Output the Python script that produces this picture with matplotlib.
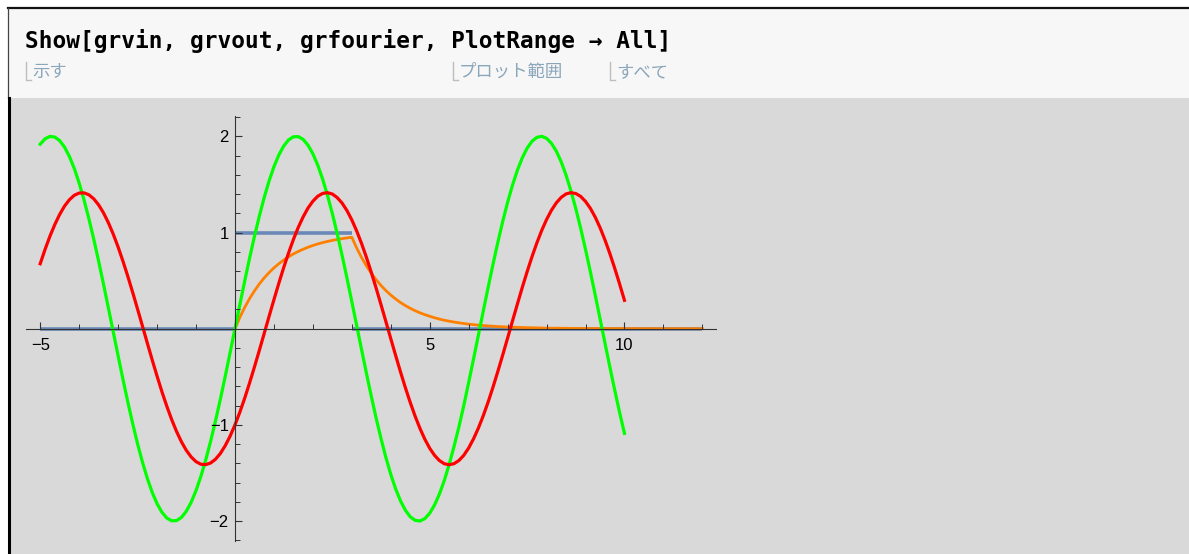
import matplotlib.pyplot as plt
from matplotlib.ticker import FixedLocator
from matplotlib.patches import Rectangle
from matplotlib.lines import Line2D

plt.rcParams['font.family'] = ['Liberation Sans', 'DejaVu Sans']

W, H = 1189, 554

# grfourier: two sinusoids sampled every 0.125 on [-5, 10]
x_wave = [-5.0 + 0.125 * i for i in range(121)]
green = [1.918, 1.974, 1.999, 1.992, 1.955, 1.887, 1.790, 1.665, 1.514, 1.339,
         1.143, 0.930, 0.702, 0.463, 0.216, -0.033, -0.282, -0.527, -0.763, -0.988,
         -1.197, -1.387, -1.556, -1.701, -1.819, -1.908, -1.968, -1.997, -1.995, -1.962,
         -1.898, -1.805, -1.683, -1.535, -1.363, -1.170, -0.959, -0.733, -0.495, -0.249,
         0.000, 0.249, 0.495, 0.733, 0.959, 1.170, 1.363, 1.535, 1.683, 1.805,
         1.898, 1.962, 1.995, 1.997, 1.968, 1.908, 1.819, 1.701, 1.556, 1.387,
         1.197, 0.988, 0.763, 0.527, 0.282, 0.033, -0.216, -0.463, -0.702, -0.930,
         -1.143, -1.339, -1.514, -1.665, -1.790, -1.887, -1.955, -1.992, -1.999, -1.974,
         -1.918, -1.832, -1.718, -1.577, -1.411, -1.223, -1.020, -0.798, -0.559, -0.315,
         -0.066, 0.183, 0.430, 0.670, 0.900, 1.116, 1.314, 1.492, 1.646, 1.775,
         1.876, 1.948, 1.989, 2.000, 1.979, 1.927, 1.846, 1.735, 1.597, 1.434,
         1.249, 1.045, 0.824, 0.591, 0.348, 0.099, -0.150, -0.398, -0.639, -0.870,
         -1.088]
red = [0.675, 0.825, 0.962, 1.083, 1.188, 1.275, 1.341, 1.387, 1.410, 1.412,
       1.392, 1.350, 1.287, 1.204, 1.102, 0.983, 0.849, 0.701, 0.543, 0.376,
       0.203, 0.027, -0.150, -0.324, -0.493, -0.655, -0.806, -0.944, -1.068, -1.175,
       -1.264, -1.333, -1.382, -1.409, -1.413, -1.396, -1.357, -1.297, -1.216, -1.117,
       -1.000, -0.868, -0.722, -0.564, -0.398, -0.226, -0.050, 0.127, 0.301, 0.471,
       0.634, 0.786, 0.927, 1.053, 1.162, 1.254, 1.325, 1.377, 1.406, 1.414,
       1.400, 1.363, 1.306, 1.228, 1.131, 1.016, 0.886, 0.742, 0.586, 0.421,
       0.249, 0.074, -0.103, -0.278, -0.449, -0.613, -0.767, -0.909, -1.037, -1.149,
       -1.243, -1.317, -1.371, -1.404, -1.414, -1.403, -1.370, -1.316, -1.240, -1.145,
       -1.033, -0.904, -0.762, -0.607, -0.443, -0.272, -0.097, 0.080, 0.255, 0.427,
       0.591, 0.747, 0.891, 1.021, 1.135, 1.231, 1.308, 1.365, 1.401, 1.414,
       1.405, 1.375, 1.323, 1.251, 1.159, 1.049, 0.922, 0.781, 0.628, 0.465,
       0.295]

# grvout: response to the pulse
x_resp = [0.125 * i for i in range(49)] + [6.25, 6.5, 6.75, 7.0, 7.25, 7.5,
                                           8.0, 8.5, 9.0, 10.0, 11.0, 12.0]
orange = [0.000, 0.118, 0.221, 0.313, 0.393, 0.465, 0.528, 0.583, 0.632, 0.675,
          0.713, 0.747, 0.777, 0.803, 0.826, 0.847, 0.865, 0.881, 0.895, 0.907,
          0.918, 0.928, 0.936, 0.944, 0.950, 0.839, 0.740, 0.653, 0.576, 0.509,
          0.449, 0.396, 0.350, 0.309, 0.272, 0.240, 0.212, 0.187, 0.165, 0.146,
          0.129, 0.114, 0.100, 0.088, 0.078, 0.069, 0.061, 0.054, 0.047,
          0.037, 0.029, 0.022, 0.017, 0.014, 0.011,
          0.006, 0.004, 0.002, 0.001, 0.000, 0.000]

# grvin: rectangular pulse
vin_edges = [-5, 0, 3, 12]
vin_levels = [0, 1, 0]

x_major = [-5, 5, 10]
x_minor = [-4, -3, -2, -1, 1, 2, 3, 4, 6, 7, 8, 9, 11, 12]
y_major = [-2, -1, 1, 2]
y_minor = [-2.2, -1.8, -1.6, -1.4, -1.2, -0.8, -0.6, -0.4, -0.2,
           0.2, 0.4, 0.6, 0.8, 1.2, 1.4, 1.6, 1.8, 2.2]


def fx(px):
    return px / W


def fy(py):
    return 1 - py / H


fig = plt.figure(figsize=(W / 100, H / 100), dpi=100)
fig.patch.set_facecolor('white')

# notebook cells
fig.add_artist(Rectangle((fx(9), fy(98)), fx(W - 9), 89 / H, transform=fig.transFigure,
                         facecolor='#f7f7f7', edgecolor='none', zorder=0))
fig.add_artist(Rectangle((fx(9), 0), fx(W - 9), fy(98), transform=fig.transFigure,
                         facecolor='#d9d9d9', edgecolor='none', zorder=0))
fig.add_artist(Line2D([fx(8), 1], [fy(8.3), fy(8.3)], transform=fig.transFigure,
                      color='#111111', lw=1.6, zorder=1))
fig.add_artist(Line2D([fx(8), fx(8)], [fy(8), fy(98)], transform=fig.transFigure,
                      color='#444444', lw=0.9, zorder=1))
fig.add_artist(Line2D([fx(9.3), fx(9.3)], [fy(98), 0], transform=fig.transFigure,
                      color='black', lw=2.2, zorder=1))

fig.text(fx(25), fy(48), 'Show[grvin, grvout, grfourier, PlotRange → All]',
         family=['DejaVu Sans Mono'], weight='bold', fontsize=16.4, va='baseline')

hints = [(26, '示す'), (453, 'プロット範囲'), (610, 'すべて')]
for hx, word in hints:
    fig.add_artist(Line2D([fx(hx), fx(hx), fx(hx + 5)], [fy(62), fy(80), fy(80)],
                          transform=fig.transFigure, color='#bdbdbd', lw=1.0))
    fig.text(fx(hx + 6), fy(77), word, family=['Noto Sans CJK JP', 'DejaVu Sans'],
             fontsize=12.5, color='#8aa6ba', va='baseline')

# plot area
left, right, top, bottom = 25.8, 716.0, 116.1, 541.3
ax = fig.add_axes([fx(left), fy(bottom), (right - left) / W, (bottom - top) / H])
ax.set_facecolor('none')
ax.set_xlim(-5.37, 12.35)
ax.set_ylim(-2.21, 2.21)

ax.hlines(vin_levels, vin_edges[:-1], vin_edges[1:], color='#5e81b5', lw=2.6, alpha=0.9)
ax.plot(x_resp, orange, color='#ff8000', lw=2.0)
ax.plot(x_wave, green, color='#00ff00', lw=2.3, solid_joinstyle='round')
ax.plot(x_wave, red, color='#ff0000', lw=2.3, solid_joinstyle='round')

for side in ('top', 'right'):
    ax.spines[side].set_visible(False)
for side in ('left', 'bottom'):
    ax.spines[side].set_position(('data', 0))
    ax.spines[side].set_color('#333333')
    ax.spines[side].set_linewidth(0.8)
ax.set_axisbelow(False)

ax.xaxis.set_major_locator(FixedLocator(x_major))
ax.xaxis.set_minor_locator(FixedLocator(x_minor))
ax.yaxis.set_major_locator(FixedLocator(y_major))
ax.yaxis.set_minor_locator(FixedLocator(y_minor))
ax.set_xticklabels(['−5', '5', '10'])
ax.set_yticklabels(['−2', '−1', '1', '2'])
ax.tick_params(axis='x', which='major', direction='in', length=5, width=0.8,
               color='#333333', pad=7, labelsize=12)
ax.tick_params(axis='y', which='major', direction='in', length=5, width=0.8,
               color='#333333', pad=4.5, labelsize=12)
ax.tick_params(which='minor', direction='in', length=3.3, width=0.7, color='#333333')

fig.savefig('out.png', dpi=100)
